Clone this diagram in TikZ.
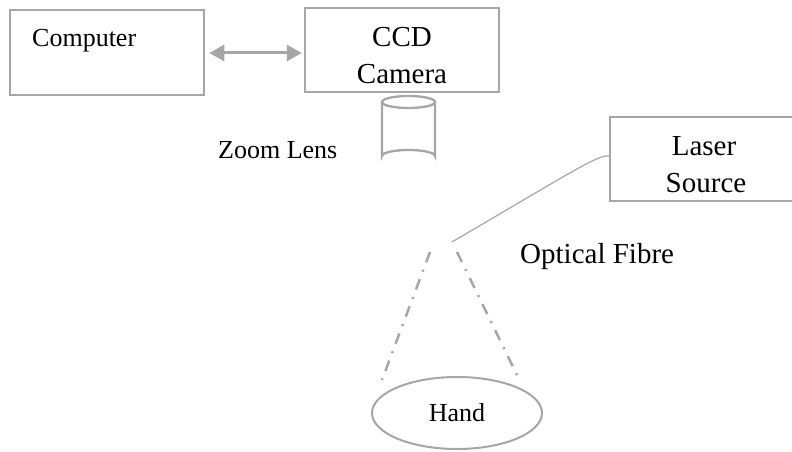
\documentclass[tikz,border=0pt]{standalone}
\usepackage{fontspec}
\setmainfont{Liberation Serif}
\usetikzlibrary{arrows.meta,shapes.geometric}
\definecolor{linegray}{HTML}{A6A6A6}
\begin{document}
\begin{tikzpicture}[x=1pt,y=-1pt,
  box/.style={draw=linegray, line width=2.5pt, rectangle, inner sep=0pt},
  txtA/.style={font=\fontsize{26}{31}\selectfont, inner sep=0pt, text=black},
  txtB/.style={font=\fontsize{29}{36}\selectfont, inner sep=0pt, text=black},
  beam/.style={draw=linegray, line width=2.5pt, dash pattern=on 11pt off 8pt on 2pt off 8pt},
  fibre/.style={draw=linegray, line width=1.2pt},
  lens/.style={draw=linegray, line width=2.3pt}]
\useasboundingbox (0,0) rectangle (792,452);

% boxes
\node[box, minimum width=194pt, minimum height=85pt] (comp) at (107,52.5) {};
\node[box, minimum width=194pt, minimum height=84pt] (ccd) at (402,50) {};
\node[box, minimum width=192pt, minimum height=84pt] (laser) at (706,159) {};

% texts
\node[txtA, anchor=base west] (tcomp) at (32,47) {Computer};
\node[txtB, anchor=base] (tccd) at (402,47) {CCD};
\node[txtB, anchor=base] (tcam) at (402,83) {Camera};
\node[txtB, anchor=base] (tlaser) at (704,155) {Laser};
\node[txtB, anchor=base] (tsource) at (706,192) {Source};
\node[txtA, anchor=base west] (tzoom) at (218,158) {Zoom Lens};
\node[txtB, anchor=base west] (tfibre) at (520,263) {Optical Fibre};

% computer <-> camera
\draw[draw=linegray, line width=3pt,
      {Triangle[length=15pt,width=16pt,fill=linegray]}-{Triangle[length=15pt,width=16pt,fill=linegray]},
      shorten <=4pt, shorten >=2pt]
  ([yshift=-0.5pt]comp.east) -- ([yshift=-0.5pt]comp.east -| ccd.west);

% zoom lens (cylinder)
\coordinate (lensT) at (408.5,102);
\coordinate (lensB) at (408.5,156);
\draw[lens] (lensT) ellipse [x radius=26.5, y radius=6];
\draw[lens] ([xshift=-26.5pt]lensT) -- ([xshift=-26.5pt]lensB)
  arc[start angle=180, end angle=360, x radius=26.5, y radius=6]
  -- ([xshift=26.5pt]lensT);

% optical fibre
\coordinate (fend) at (452,242);
\draw[fibre] ([yshift=3pt]laser.west) .. controls (598,155) and (578,168) .. (fend);

% hand
\node[draw=linegray, line width=2pt, ellipse, minimum width=170pt, minimum height=72pt,
      inner sep=0pt, font=\fontsize{26}{31}\selectfont] (hand) at (457,413) {Hand};

% light cone
\coordinate (cl1) at (430,252);
\coordinate (cl2) at (382,380);
\coordinate (cr1) at (457,252);
\coordinate (cr2) at (517,375);
\draw[beam] (cl1) -- (cl2);
\draw[beam] (cr1) -- (cr2);
\end{tikzpicture}
\end{document}
